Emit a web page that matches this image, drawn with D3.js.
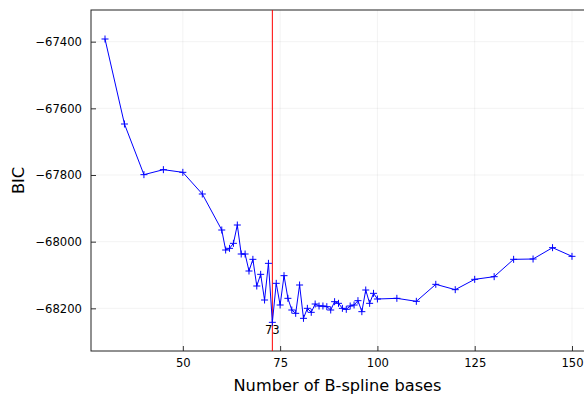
<!DOCTYPE html>
<html>
<head>
<meta charset="utf-8">
<script src="https://cdn.jsdelivr.net/npm/d3@7"></script>
<style>
  body { margin: 0; background: #fff; }
  svg { display: block; overflow: hidden; }
  text { font-family: "DejaVu Sans", sans-serif; }
</style>
</head>
<body>
<div id="chart"></div>
<script>
// Number of B-spline bases tried
const bases = [30, 35, 40, 45, 50, 55, 60,
  61, 62, 63, 64, 65, 66, 67, 68, 69, 70,
  71, 72, 73, 74, 75, 76, 77, 78, 79, 80,
  81, 82, 83, 84, 85, 86, 87, 88, 89, 90,
  91, 92, 93, 94, 95, 96, 97, 98, 99, 100,
  105, 110, 115, 120, 125, 130, 135, 140, 145, 150];

// BIC for each number of bases
const bic = [-67392, -67647, -67799, -67784, -67792, -67857, -67965,
  -68025, -68020, -68005, -67950, -68037, -68037, -68088, -68053, -68133, -68098,
  -68175, -68065, -68242, -68125, -68190, -68102, -68170, -68205, -68215, -68130,
  -68230, -68200, -68212, -68187, -68193, -68193, -68195, -68205, -68180, -68185,
  -68200, -68203, -68193, -68190, -68177, -68210, -68145, -68185, -68155, -68172,
  -68170, -68179, -68128, -68144, -68113, -68105, -68053, -68052, -68018, -68044];

const best = 73;
const xTicks = [50, 75, 100, 125, 150];
const yTicks = [-67400, -67600, -67800, -68000, -68200];

const W = 584, H = 400;
const mLeft = 91, mTop = 10, mRight = 586, mBottom = 351;

const svg = d3.select('#chart').append('svg')
  .attr('width', W)
  .attr('height', H);

const x = d3.scaleLinear().domain([26.4, 153.6]).range([mLeft, mRight]);
const y = d3.scaleLinear().domain([-68328, -67305]).range([mBottom, mTop]);

const fmt = d => (d < 0 ? '\u2212' : '') + Math.abs(d);

// grid
svg.append('g')
  .selectAll('line')
  .data(xTicks)
  .join('line')
  .attr('x1', d => x(d)).attr('x2', d => x(d))
  .attr('y1', mTop).attr('y2', mBottom)
  .attr('stroke', '#000').attr('stroke-opacity', 0.1).attr('stroke-width', 0.5);

svg.append('g')
  .selectAll('line')
  .data(yTicks)
  .join('line')
  .attr('x1', mLeft).attr('x2', mRight)
  .attr('y1', d => y(d)).attr('y2', d => y(d))
  .attr('stroke', '#000').attr('stroke-opacity', 0.1).attr('stroke-width', 0.5);

// axes (ticks pointing inward)
const xAxis = svg.append('g')
  .attr('transform', `translate(0,${mBottom})`)
  .call(d3.axisBottom(x).tickValues(xTicks).tickSizeInner(-5).tickSizeOuter(0).tickPadding(8));
const yAxis = svg.append('g')
  .attr('transform', `translate(${mLeft},0)`)
  .call(d3.axisLeft(y).tickValues(yTicks).tickFormat(fmt).tickSizeInner(-5).tickSizeOuter(0).tickPadding(9));

[xAxis, yAxis].forEach(a => {
  a.select('.domain').remove();
  a.selectAll('.tick line').attr('stroke', '#333');
  a.selectAll('.tick text')
    .attr('fill', '#000')
    .style('font-size', '11.6px')
    .style('font-family', '"DejaVu Sans", sans-serif');
});

// frame
svg.append('rect')
  .attr('x', mLeft).attr('y', mTop)
  .attr('width', mRight - mLeft).attr('height', mBottom - mTop)
  .attr('fill', 'none').attr('stroke', '#222').attr('stroke-width', 1);

// chosen number of bases
svg.append('line')
  .attr('x1', x(best)).attr('x2', x(best))
  .attr('y1', mTop).attr('y2', mBottom)
  .attr('stroke', '#ff0000').attr('stroke-width', 1);

const data = bases.map((b, i) => ({ b, v: bic[i] }));

// BIC curve
svg.append('path')
  .datum(data)
  .attr('fill', 'none')
  .attr('stroke', '#0000ff')
  .attr('stroke-width', 1)
  .attr('d', d3.line().x(d => x(d.b)).y(d => y(d.v)));

// cross markers
const s = 3.5;
svg.append('g')
  .selectAll('path')
  .data(data)
  .join('path')
  .attr('d', d => `M${x(d.b) - s},${y(d.v)}H${x(d.b) + s}M${x(d.b)},${y(d.v) - s}V${y(d.v) + s}`)
  .attr('stroke', '#0000ff')
  .attr('stroke-width', 1);

// label for minimum
const minPt = data.find(d => d.b === best);
svg.append('text')
  .attr('x', x(best))
  .attr('y', y(minPt.v) + 12)
  .attr('text-anchor', 'middle')
  .style('font-size', '11.6px')
  .text(best);

// axis labels
svg.append('text')
  .attr('x', (mLeft + W) / 2)
  .attr('y', 391)
  .attr('text-anchor', 'middle')
  .style('font-size', '16.2px')
  .text('Number of B-spline bases');

svg.append('text')
  .attr('transform', `translate(24,${(mTop + mBottom) / 2}) rotate(-90)`)
  .attr('text-anchor', 'middle')
  .style('font-size', '16.2px')
  .text('BIC');
</script>
</body>
</html>
